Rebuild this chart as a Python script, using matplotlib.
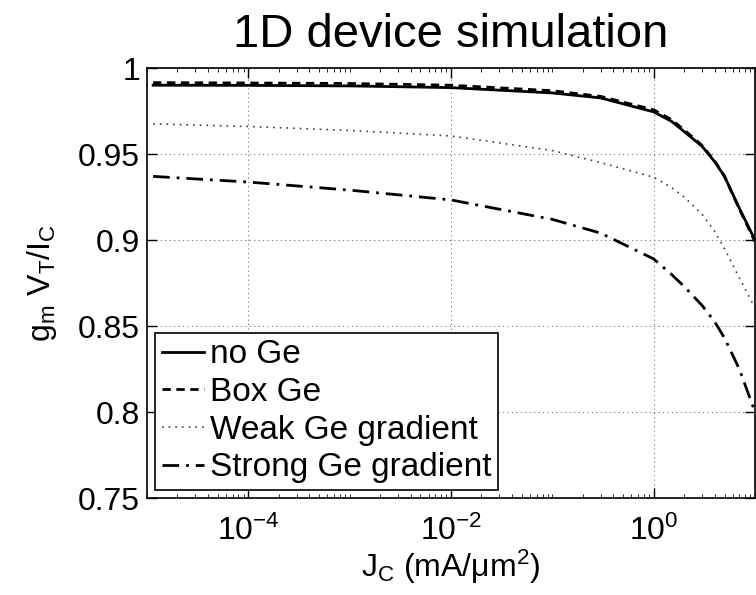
import numpy as np
import matplotlib
matplotlib.use("Agg")
import matplotlib.pyplot as plt
from matplotlib.ticker import FixedLocator, LogLocator, NullFormatter

plt.rcParams["font.family"] = ["Liberation Sans", "DejaVu Sans"]
plt.rcParams["mathtext.fontset"] = "custom"
plt.rcParams["mathtext.rm"] = "Liberation Sans"
plt.rcParams["mathtext.it"] = "Liberation Sans:italic"

# current density J_C in mA/um^2
jc = [1.15e-5, 1e-4, 1e-3, 1e-2, 1e-1, 0.3, 1.0, 1.5, 2.0, 3.0, 4.0, 5.0, 7.0, 10.0]

no_ge = [0.9900, 0.9899, 0.9896, 0.9886, 0.9855, 0.9826, 0.9745, 0.9690, 0.9630,
         0.9545, 0.9455, 0.9370, 0.9185, 0.9000]
box_ge = [0.9915, 0.9913, 0.9910, 0.9900, 0.9868, 0.9835, 0.9757, 0.9700, 0.9640,
          0.9550, 0.9460, 0.9370, 0.9180, 0.8990]
weak_grad = [0.9675, 0.9660, 0.9637, 0.9605, 0.9520, 0.9450, 0.9365, 0.9305, 0.9250,
             0.9150, 0.9050, 0.8950, 0.8780, 0.8605]
strong_grad = [0.9370, 0.9337, 0.9290, 0.9233, 0.9120, 0.9040, 0.8890, 0.8800, 0.8730,
               0.8620, 0.8525, 0.8430, 0.8250, 0.8000]

series_labels = ["no Ge", "Box Ge", "Weak Ge gradient", "Strong Ge gradient"]
x_ticks = [1e-4, 1e-2, 1e0]
y_ticks = [0.75, 0.8, 0.85, 0.9, 0.95, 1.0]
y_ticklabels = ["0.75", "0.8", "0.85", "0.9", "0.95", "1"]

fig = plt.figure(figsize=(7.56, 5.95), dpi=100)
ax = fig.add_axes([0.1944, 0.163, 0.8043, 0.7227])

ax.semilogx(jc, no_ge, color="black", lw=2, linestyle="-", label=series_labels[0])
ax.semilogx(jc, box_ge, color="black", lw=2, linestyle=(0, (3, 2)), label=series_labels[1])
ax.semilogx(jc, weak_grad, color="0.25", lw=1.2, linestyle=(0, (1, 3)), label=series_labels[2])
ax.semilogx(jc, strong_grad, color="black", lw=2, linestyle=(0, (6, 2.5, 1, 2.5)),
            label=series_labels[3])

ax.set_xlim(1e-5, 10)
ax.set_ylim(0.75, 1.0)
ax.xaxis.set_major_locator(FixedLocator(x_ticks))
ax.xaxis.set_minor_locator(LogLocator(base=10, subs=np.arange(1, 10), numticks=100))
ax.xaxis.set_minor_formatter(NullFormatter())
ax.set_yticks(y_ticks)
ax.set_yticklabels(y_ticklabels)

ax.tick_params(which="both", direction="in", top=True, right=True, labelsize=23)
ax.tick_params(axis="x", pad=13)
ax.tick_params(axis="y", pad=5)
ax.tick_params(which="major", length=7, width=1)
ax.tick_params(which="minor", length=3, width=0.6)

ax.grid(True, which="major", color="0.45", linestyle=(0, (1, 3)), lw=0.8)
for sp in ax.spines.values():
    sp.set_linewidth(1.2)

ax.set_title("1D device simulation", fontsize=34, pad=15)
ax.set_xlabel(r"J$_\mathregular{C}$ (mA/$\mathregular{\mu}$m$^\mathregular{2}$)", fontsize=23, labelpad=0)
ax.set_ylabel(r"g$_\mathregular{m}$ V$_\mathregular{T}$/I$_\mathregular{C}$", fontsize=23, labelpad=14)

leg = ax.legend(loc="lower left", fontsize=24, frameon=True, fancybox=False,
                edgecolor="black", framealpha=1, handlelength=1.27, handletextpad=0.18,
                labelspacing=0.2, borderpad=0.2, borderaxespad=0.24)
leg.get_frame().set_linewidth(1.2)

fig.savefig("out.png", dpi=100)
